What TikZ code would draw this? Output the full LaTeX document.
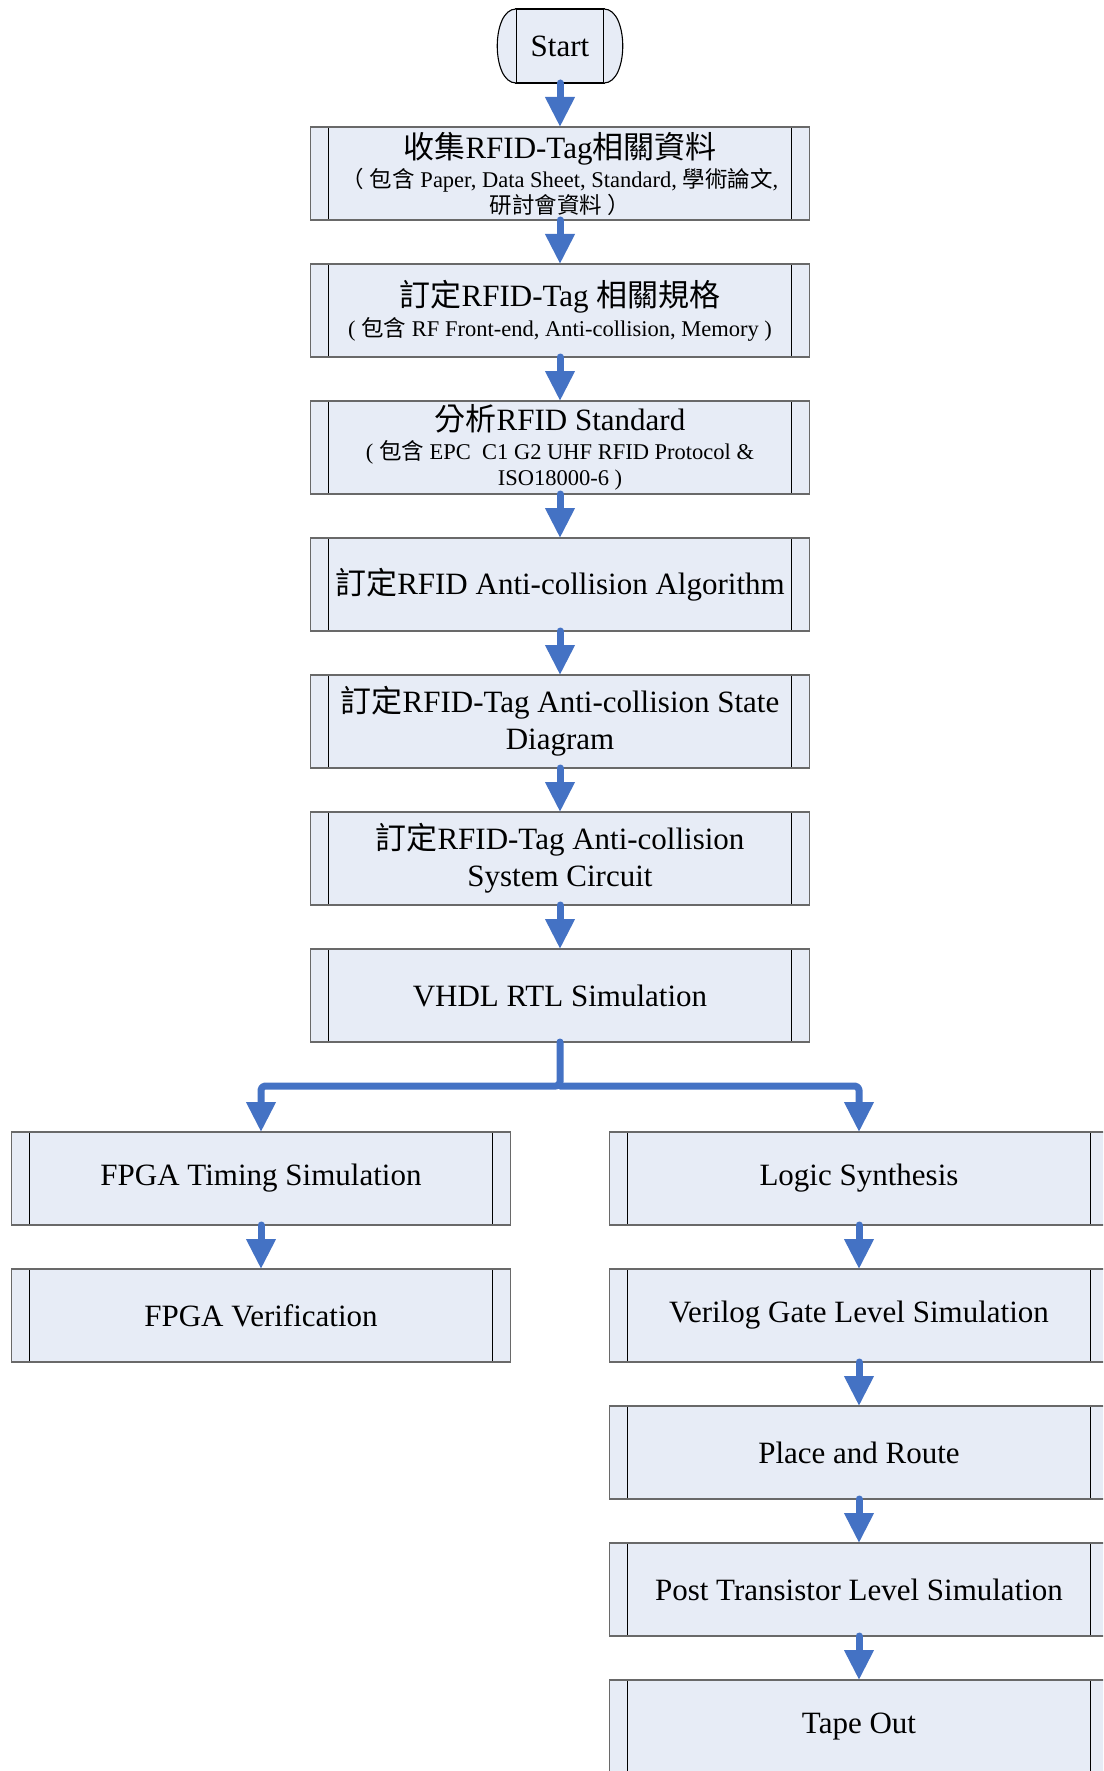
\documentclass[tikz,border=0pt]{standalone}
\usepackage{fontspec}
\setmainfont{Liberation Serif}
\newfontfamily\cjk{Noto Sans CJK TC}
\usepackage{xcolor}
\usetikzlibrary{
  arrows.meta,
  positioning}
\definecolor{flowblue}{RGB}{68,114,196}
\definecolor{boxfill}{RGB}{231,236,246}
\definecolor{boxline}{RGB}{105,105,105}
\newcommand{\subtxt}{\fontsize{22.5}{26}\selectfont}
\tikzset{every picture/.style={font issue=\fontsize{31}{37}\selectfont},
         font issue/.style={execute at begin picture={#1}},
         process/.style={draw=boxline, line width=1.5pt, fill=boxfill,
           minimum width=499pt, minimum height=93pt, text width=495pt,
           align=flush center, inner sep=0pt, outer sep=0pt,
           path picture={
             \draw[black,line width=1.1pt] ([xshift=18pt]path picture bounding box.north west) -- ([xshift=18pt]path picture bounding box.south west);
             \draw[black,line width=1.1pt] ([xshift=-18pt]path picture bounding box.north east) -- ([xshift=-18pt]path picture bounding box.south east);
           }},
         terminal/.style={draw=black, line width=1.1pt, fill=boxfill,
           minimum width=88pt, minimum height=74pt, inner sep=0pt, outer sep=0pt},
         flow/.style={flowblue, line width=7pt, line cap=round, line join=round,
           rounded corners=4pt, -{Triangle[width=28pt,length=30pt]}}
        }

\begin{document}
\begin{tikzpicture}[x=1pt, y=-1pt, node distance=44pt]
    \useasboundingbox (0,0) rectangle (1103,1771);
    \clip (0,0) rectangle (1103,1771);

    \node[terminal] at (560,46) (start){Start};
    \draw[line width=1.1pt, fill=boxfill] (start.north west) .. controls +(-25,0) and +(-25,0) .. (start.south west);
    \draw[line width=1.1pt, fill=boxfill] (start.north east) .. controls +(25,0) and +(25,0) .. (start.south east);

    \node[process, below = of start](collect){{\cjk 收集}RFID-Tag{\cjk 相關資料}\\[3pt]
        {\subtxt {\cjk （}\ {\cjk 包含} Paper, Data Sheet, Standard, {\cjk 學術論文}, \\ {\cjk 研討會資料}\ {\cjk ）}\par}};
        \node[process, below = of collect](spec){{\cjk 訂定}RFID-Tag {\cjk 相關規格}\\[4pt]
        {\subtxt ( {\cjk 包含} RF Front-end, Anti-collision, Memory )\par}};
            \node[process, below = of spec](standard){{\cjk 分析}RFID Standard\\[3pt]
        {\subtxt ( {\cjk 包含} EPC\ \ C1 G2 UHF RFID Protocol \& \\ ISO18000-6 )\par}};
                \node[process, below = of standard](algo){{\cjk 訂定}RFID Anti-collision Algorithm};
                \node[process, below = of algo](state){{\cjk 訂定}RFID-Tag Anti-collision State\\ Diagram};
                \node[process, below = of state](circuit){{\cjk 訂定}RFID-Tag Anti-collision\\ System Circuit};
                \node[process, below = of circuit](rtl){VHDL RTL Simulation};

    \node[process, below = 90pt of rtl, xshift=-299pt](fpgatime){FPGA Timing Simulation};
        \node[process, below = of fpgatime](fpgaver){FPGA Verification};

    \node[process, below = 90pt of rtl, xshift=299pt](synth){Logic Synthesis};
        \node[process, below = of synth](gate){Verilog Gate Level Simulation};
            \node[process, below = of gate](pnr){Place and Route};
                \node[process, below = of pnr](post){Post Transistor Level Simulation};
                    \node[process, below = of post](tape){Tape Out};

    \coordinate[below = of rtl] (fork);

    \draw[flow] (start) -- (collect);
    \draw[flow] (collect) -- (spec);
    \draw[flow] (spec) -- (standard);
    \draw[flow] (standard) -- (algo);
    \draw[flow] (algo) -- (state);
    \draw[flow] (state) -- (circuit);
    \draw[flow] (circuit) -- (rtl);
    \draw[flow] (rtl) -- (fork) -| (fpgatime);
    \draw[flow] (fork) -| (synth);
    \draw[flow] (fpgatime) -- (fpgaver);
    \draw[flow] (synth) -- (gate);
    \draw[flow] (gate) -- (pnr);
    \draw[flow] (pnr) -- (post);
    \draw[flow] (post) -- (tape);
    \end{tikzpicture}
\end{document}
